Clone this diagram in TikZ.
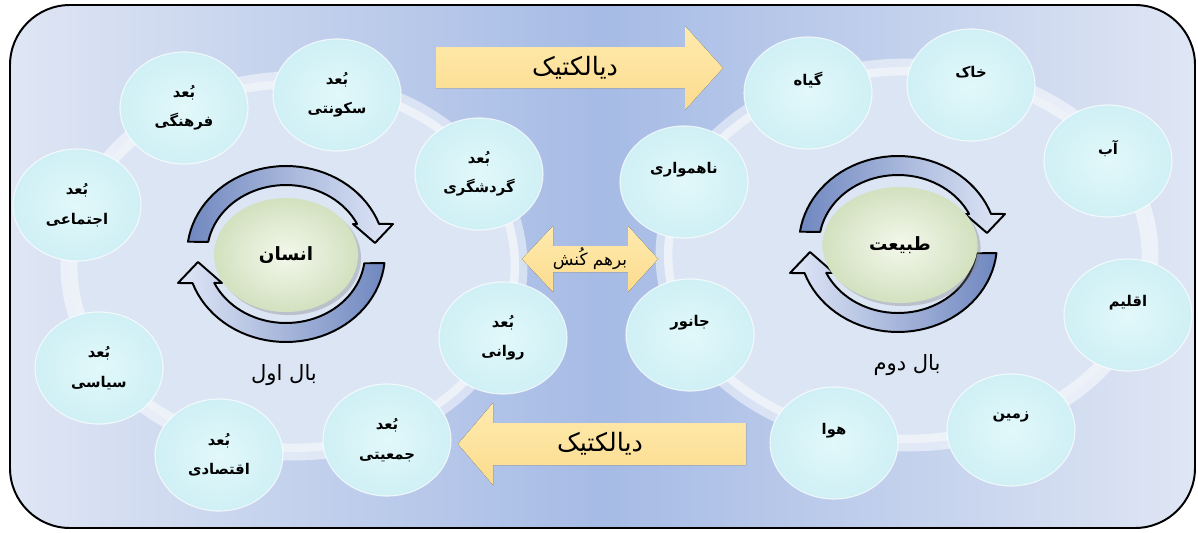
\documentclass[tikz,border=0pt]{standalone}
\usepackage{fontspec}
\newfontfamily\fa[Script=Arabic]{DejaVu Sans}
\TeXXeTstate=1
\usetikzlibrary{shapes.geometric,shadows}
\newcommand{\rtl}[1]{\beginR#1\endR}
\definecolor{bgEdge}{HTML}{DFE6F4}
\definecolor{bgMid}{HTML}{A6BBE5}
\definecolor{ringIn}{HTML}{DCE5F4}
\definecolor{bubIn}{HTML}{E2F8FA}
\definecolor{bubOut}{HTML}{CFF0F5}
\definecolor{cycDark}{HTML}{7088C0}
\definecolor{cycLight}{HTML}{E0E7F7}
\definecolor{coreIn}{HTML}{F4F8EC}
\definecolor{coreOut}{HTML}{D2E1BF}
\definecolor{arrowA}{HTML}{FEEAAE}
\definecolor{arrowB}{HTML}{FCDC8E}
\begin{document}
\begin{tikzpicture}[x=0.025cm, y=-0.025cm,
  bubble/.style={ellipse, minimum width=3.2cm, minimum height=2.8cm, inner sep=0pt,
    inner color=bubIn, outer color=bubOut, draw=white, draw opacity=0.7, line width=0.8pt},
  core/.style={ellipse, inner sep=0pt, inner color=coreIn, outer color=coreOut,
    drop shadow={opacity=0.35}, font=\fa\bfseries\fontsize{13}{16}\selectfont},
  ftxt/.style={font=\fa\bfseries\fontsize{10.5}{21}\selectfont, align=center, text=black},
  wtxt/.style={font=\fa\fontsize{15}{18}\selectfont, text=black},
  yellow/.style={top color=arrowA, bottom color=arrowB},
  cyc/.style={draw=black, line width=1.4pt, line join=round}]

\fill[white] (0,0) rectangle (1198,533);
\useasboundingbox (0,0) rectangle (1198,533);

\draw[line width=1.4pt, rounded corners=1.5cm, left color=bgEdge, right color=bgEdge,
  middle color=bgMid] (10,5) rectangle (1195,528);

\fill[ringIn] (294,266) ellipse [x radius=5.625cm, y radius=4.65cm];
\draw[white, opacity=0.5, line width=12pt] (294,266) ellipse [x radius=5.625cm, y radius=4.65cm];
\fill[ringIn] (907,255) ellipse [x radius=6.075cm, y radius=4.7cm];
\draw[white, opacity=0.5, line width=12pt] (907,255) ellipse [x radius=6.075cm, y radius=4.7cm];

\fill[yellow] (436,47) -- (685,47) -- (685,26) -- (723,68) -- (685,110) -- (685,88) -- (436,88) -- cycle;
\fill[yellow] (746,423) -- (493,423) -- (493,403) -- (458,444) -- (493,485) -- (493,465) -- (746,465) -- cycle;
\fill[yellow] (553,246) -- (628,246) -- (628,226) -- (658,259) -- (628,292) -- (628,272)
  -- (553,272) -- (553,292) -- (522,259) -- (553,226) -- cycle;

\node[wtxt, font=\fa\fontsize{18}{20}\selectfont] (d1) at (575,68) {\rtl{دیالکتیک}};
\node[wtxt, font=\fa\fontsize{18}{20}\selectfont] (d2) at (600,444) {\rtl{دیالکتیک}};
\node[wtxt, font=\fa\fontsize{12}{14}\selectfont] (bk) at (590,259) {\rtl{برهم کُنش}};

\node[bubble, ftxt] (sk) at (337,95) {\rtl{بُعد}\\\rtl{سکونتی}};
\node[bubble, ftxt] (fr) at (184,108) {\rtl{بُعد}\\\rtl{فرهنگی}};
\node[bubble, ftxt] (ej) at (77,205) {\rtl{بُعد}\\\rtl{اجتماعی}};
\node[bubble, ftxt] (si) at (99,368) {\rtl{بُعد}\\\rtl{سیاسی}};
\node[bubble, ftxt] (eq) at (219,455) {\rtl{بُعد}\\\rtl{اقتصادی}};
\node[bubble, ftxt] (jm) at (387,440) {\rtl{بُعد}\\\rtl{جمعیتی}};
\node[bubble, ftxt] (rv) at (503,338) {\rtl{بُعد}\\\rtl{روانی}};
\node[bubble, ftxt] (gr) at (479,174) {\rtl{بُعد}\\\rtl{گردشگری}};

\node[bubble, label={[ftxt, yshift=3.2mm]center:{\rtl{گیاه}}}] (gy) at (808,93) {};
\node[bubble, label={[ftxt, yshift=3.2mm]center:{\rtl{خاک}}}] (kh) at (971,85) {};
\node[bubble, label={[ftxt, yshift=3.2mm]center:{\rtl{آب}}}] (ab) at (1108,161) {};
\node[bubble, label={[ftxt, yshift=3.2mm]center:{\rtl{اقلیم}}}] (aq) at (1128,315) {};
\node[bubble, label={[ftxt, yshift=3.2mm]center:{\rtl{زمین}}}] (zm) at (1011,430) {};
\node[bubble, label={[ftxt, yshift=3.2mm]center:{\rtl{هوا}}}] (hv) at (834,443) {};
\node[bubble, label={[ftxt, yshift=3.2mm]center:{\rtl{جانور}}}] (jn) at (690,335) {};
\node[bubble, label={[ftxt, yshift=3.2mm]center:{\rtl{ناهمواری}}}] (nh) at (684,182) {};

\foreach \cx/\cy in {286/254,898/244}{
  \begin{scope}[shift={(\cx,\cy)}]
    \draw[cyc, left color=cycDark, right color=cycLight]
      plot[domain=188:340, samples=40] ({99*cos(\x)},{88*sin(\x)})
      -- (107,-30) -- (89,-11) -- (67,-30)
      -- plot[domain=334.2:190.2, samples=40] ({79*cos(\x)},{69*sin(\x)}) -- cycle;
    \draw[cyc, left color=cycLight, right color=cycDark]
      plot[domain=6:160.7, samples=40] ({99*cos(\x)},{88*sin(\x)})
      -- (-108,29) -- (-88,8) -- (-64,29)
      -- plot[domain=155.2:7.7, samples=40] ({79*cos(\x)},{69*sin(\x)}) -- cycle;
  \end{scope}
}

\node[core, minimum width=3.6cm, minimum height=2.85cm] (ins) at (286,255) {\rtl{انسان}};
\node[core, minimum width=3.875cm, minimum height=2.9cm] (tab) at (900,245) {\rtl{طبیعت}};

\node[wtxt] (b1) at (284,375) {\rtl{بال اول}};
\node[wtxt] (b2) at (907,365) {\rtl{بال دوم}};

\end{tikzpicture}
\end{document}
